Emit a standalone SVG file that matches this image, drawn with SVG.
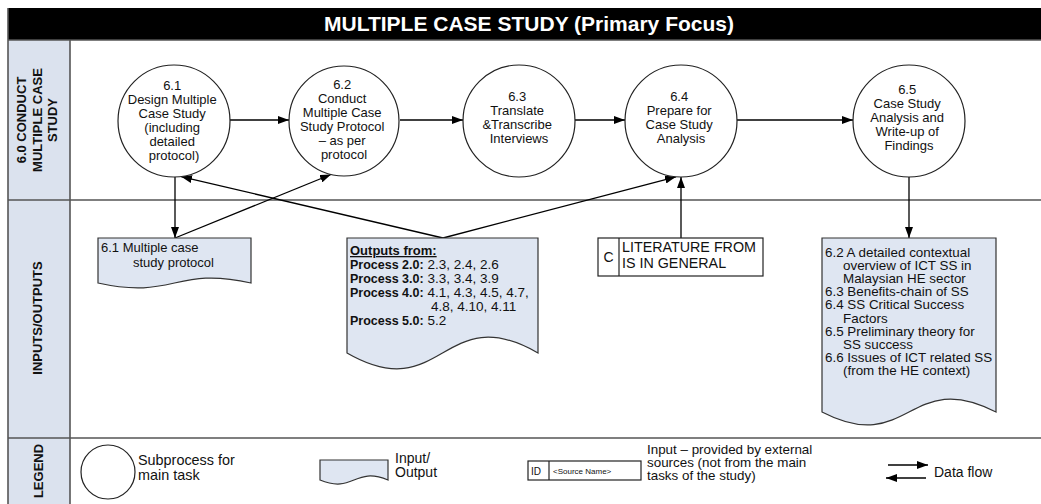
<svg xmlns="http://www.w3.org/2000/svg" width="1041" height="504" viewBox="0 0 1041 504">
  <defs>
    <marker id="arrow" viewBox="0 0 11 8" refX="11" refY="4" markerWidth="11" markerHeight="8" markerUnits="userSpaceOnUse" orient="auto">
      <path d="M0,0 L11,4 L0,8 Z" fill="#000"/>
    </marker>
    <style>
      text { font-family: "Liberation Sans", Arial, sans-serif; fill: #111; }
      .lane-line { stroke: #555; stroke-width: 1.6; fill: none; }
      .lane-head { fill: #dbe2ee; }
      .lane-title { font-size: 13px; font-weight: bold; text-anchor: middle; }
      .proc { fill: #fff; stroke: #222; stroke-width: 1.2; }
      .proc-text { font-size: 13px; text-anchor: middle; }
      .doc { fill: #dfe6f2; stroke: #333; stroke-width: 1.2; }
      .doc-text { font-size: 13px; }
      .src { fill: #fff; stroke: #222; stroke-width: 1.2; }
      .flow { stroke: #000; stroke-width: 1.3; fill: none; marker-end: url(#arrow); }
      .legend-text { font-size: 14px; }
      .b { font-weight: bold; font-size: 12.5px; }
    </style>
  </defs>

  <!-- Title bar -->
  <g id="title">
    <rect x="8" y="8" width="1033" height="32" fill="#000"/>
    <text x="529" y="31" font-size="21" font-weight="bold" text-anchor="middle" style="fill:#fff">MULTIPLE CASE STUDY (Primary Focus)</text>
  </g>

  <!-- Swimlanes -->
  <g id="lanes">
    <rect class="lane-head" x="8" y="40" width="62" height="464"/>
    <line class="lane-line" x1="8" y1="40" x2="1041" y2="40"/>
    <line class="lane-line" x1="8" y1="200" x2="1041" y2="200"/>
    <line class="lane-line" x1="8" y1="438" x2="1041" y2="438"/>
    <line class="lane-line" x1="8" y1="8" x2="8" y2="504"/>
    <line class="lane-line" x1="70" y1="40" x2="70" y2="504"/>
    <g transform="translate(0,120) rotate(-90)">
      <text class="lane-title" x="0" y="25.5">6.0 CONDUCT</text>
      <text class="lane-title" x="0" y="41.5">MULTIPLE CASE</text>
      <text class="lane-title" x="0" y="57">STUDY</text>
    </g>
    <g transform="translate(0,318) rotate(-90)">
      <text class="lane-title" x="0" y="42">INPUTS/OUTPUTS</text>
    </g>
    <g transform="translate(0,471) rotate(-90)">
      <text class="lane-title" x="0" y="43">LEGEND</text>
    </g>
  </g>

  <!-- Connectors -->
  <g id="connectors">
    <line class="flow" x1="230" y1="120" x2="289" y2="120"/>
    <line class="flow" x1="400" y1="120" x2="463" y2="120"/>
    <line class="flow" x1="575" y1="120" x2="625" y2="120"/>
    <line class="flow" x1="737" y1="120" x2="853" y2="120"/>
    <line class="flow" x1="175" y1="177" x2="175" y2="238"/>
    <line class="flow" x1="175" y1="238" x2="331" y2="174.5"/>
    <line class="flow" x1="443" y1="238" x2="181" y2="176.6"/>
    <line class="flow" x1="443" y1="238" x2="676" y2="176.8"/>
    <line class="flow" x1="681" y1="238" x2="681" y2="177"/>
    <line class="flow" x1="909" y1="177" x2="909" y2="238"/>
  </g>

  <!-- Subprocesses -->
  <g id="p6-1">
    <circle class="proc" cx="174" cy="121" r="56"/>
    <text class="proc-text">
      <tspan x="174" y="90">6.1</tspan>
      <tspan x="174" y="104">Design Multiple</tspan>
      <tspan x="174" y="118">Case Study</tspan>
      <tspan x="174" y="132">(including</tspan>
      <tspan x="174" y="146">detailed</tspan>
      <tspan x="174" y="160">protocol)</tspan>
    </text>
  </g>
  <g id="p6-2">
    <circle class="proc" cx="344" cy="121" r="55"/>
    <text class="proc-text">
      <tspan x="344" y="89">6.2</tspan>
      <tspan x="344" y="103">Conduct</tspan>
      <tspan x="344" y="117">Multiple Case</tspan>
      <tspan x="344" y="131">Study Protocol</tspan>
      <tspan x="344" y="145">– as per</tspan>
      <tspan x="344" y="159">protocol</tspan>
    </text>
  </g>
  <g id="p6-3">
    <circle class="proc" cx="519" cy="121" r="56"/>
    <text class="proc-text">
      <tspan x="519" y="101">6.3</tspan>
      <tspan x="519" y="115">Translate</tspan>
      <tspan x="519" y="129">&amp;Transcribe</tspan>
      <tspan x="519" y="143">Interviews</tspan>
    </text>
  </g>
  <g id="p6-4">
    <circle class="proc" cx="681" cy="121" r="56"/>
    <text class="proc-text">
      <tspan x="681" y="101">6.4</tspan>
      <tspan x="681" y="115">Prepare for</tspan>
      <tspan x="681" y="129">Case Study</tspan>
      <tspan x="681" y="143">Analysis</tspan>
    </text>
  </g>
  <g id="p6-5">
    <circle class="proc" cx="909" cy="121" r="56"/>
    <text class="proc-text">
      <tspan x="909" y="94">6.5</tspan>
      <tspan x="909" y="108">Case Study</tspan>
      <tspan x="909" y="122">Analysis and</tspan>
      <tspan x="909" y="136">Write-up of</tspan>
      <tspan x="909" y="150">Findings</tspan>
    </text>
  </g>

  <!-- Inputs / outputs -->
  <g id="doc-6-1">
    <path class="doc" d="M98,238 H251 V283 C174.5,266 174.5,300 98,283 Z"/>
    <text class="doc-text">
      <tspan x="101" y="252">6.1 Multiple case</tspan>
      <tspan x="133" y="267">study protocol</tspan>
    </text>
  </g>
  <g id="doc-outputs">
    <path class="doc" d="M347,238 H538 V353 C442.5,298 442.5,408 347,353 Z"/>
    <text font-size="13.5">
      <tspan x="350" y="255" font-weight="bold" font-size="13" text-decoration="underline">Outputs from:</tspan>
      <tspan x="350" y="269" class="b">Process 2.0:</tspan><tspan> 2.3, 2.4, 2.6</tspan>
      <tspan x="350" y="283" class="b">Process 3.0:</tspan><tspan> 3.3, 3.4, 3.9</tspan>
      <tspan x="350" y="297" class="b">Process 4.0:</tspan><tspan> 4.1, 4.3, 4.5, 4.7,</tspan>
      <tspan x="431" y="311">4.8, 4.10, 4.11</tspan>
      <tspan x="350" y="325" class="b">Process 5.0:</tspan><tspan> 5.2</tspan>
    </text>
  </g>
  <g id="src-literature">
    <rect class="src" x="598" y="238" width="165" height="38"/>
    <line x1="619" y1="238" x2="619" y2="276" stroke="#222" stroke-width="1.2"/>
    <text x="608.5" y="262" font-size="14" text-anchor="middle">C</text>
    <text font-size="14.3">
      <tspan x="622" y="252">LITERATURE FROM</tspan>
      <tspan x="622" y="268">IS IN GENERAL</tspan>
    </text>
  </g>
  <g id="doc-findings">
    <path class="doc" d="M822,238 H996 V412 C909,367 909,457 822,412 Z"/>
    <text font-size="13.4">
      <tspan x="825" y="257">6.2 A detailed contextual</tspan>
      <tspan x="843" y="270.1">overview of ICT SS in</tspan>
      <tspan x="843" y="283.2">Malaysian HE sector</tspan>
      <tspan x="825" y="296.3">6.3 Benefits-chain of SS</tspan>
      <tspan x="825" y="309.4">6.4 SS Critical Success</tspan>
      <tspan x="843" y="322.5">Factors</tspan>
      <tspan x="825" y="335.6">6.5 Preliminary theory for</tspan>
      <tspan x="843" y="348.7">SS success</tspan>
      <tspan x="825" y="361.8">6.6 Issues of ICT related SS</tspan>
      <tspan x="843" y="374.9">(from the HE context)</tspan>
    </text>
  </g>

  <!-- Legend -->
  <g id="legend-process">
    <circle class="proc" cx="108" cy="472" r="27"/>
    <text font-size="14.4">
      <tspan x="138" y="465">Subprocess for</tspan>
      <tspan x="138" y="480">main task</tspan>
    </text>
  </g>
  <g id="legend-doc">
    <path class="doc" d="M320,460 H388 V480 C354,466 354,494 320,480 Z"/>
    <text class="legend-text">
      <tspan x="395" y="463">Input/</tspan>
      <tspan x="395" y="477">Output</tspan>
    </text>
  </g>
  <g id="legend-source">
    <rect class="src" x="528" y="461" width="113" height="19"/>
    <line x1="549" y1="461" x2="549" y2="480" stroke="#222" stroke-width="1.2"/>
    <text x="531" y="475" font-size="10">ID</text>
    <text x="553" y="474" font-size="8">&lt;Source Name&gt;</text>
    <text font-size="13.4">
      <tspan x="647" y="453.5">Input – provided by external</tspan>
      <tspan x="647" y="466.5">sources (not from the main</tspan>
      <tspan x="647" y="479.5">tasks of the study)</tspan>
    </text>
  </g>
  <g id="legend-flow">
    <line class="flow" x1="888" y1="465" x2="928" y2="465"/>
    <line class="flow" x1="926" y1="478" x2="886" y2="478"/>
    <text class="legend-text" x="934" y="477">Data flow</text>
  </g>
</svg>
